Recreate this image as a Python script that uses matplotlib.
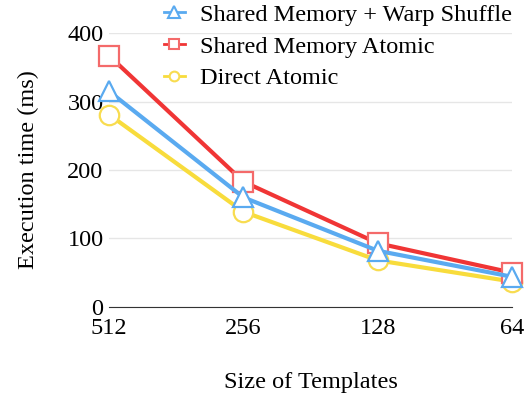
import matplotlib.pyplot as plt
from matplotlib.lines import Line2D

plt.rcParams['font.family'] = ['Liberation Serif', 'DejaVu Serif']

sizes = ['512', '256', '128', '64']
warp_shuffle = [315, 160, 82, 44]
shared_atomic = [367, 183, 93, 50]
direct_atomic = [281, 139, 68, 37]

blue, blue_e = '#5aaaf0', '#5aaaf0'
red, red_e = '#f03535', '#f46a6a'
yel, yel_e = '#f8dc3c', '#f8dc50'

fig = plt.figure(figsize=(5.27, 3.95), dpi=100)
ax = fig.add_axes([0.207, 0.223, 0.765, 0.693])

x = list(range(len(sizes)))
ax.plot(x, direct_atomic, color=yel, lw=3, marker='o', ms=14,
        mfc='white', mec=yel_e, mew=1.6, clip_on=False, zorder=3)
ax.plot(x, shared_atomic, color=red, lw=3, marker='s', ms=14,
        mfc='white', mec=red_e, mew=1.6, clip_on=False, zorder=4)
ax.plot(x, warp_shuffle, color=blue, lw=3, marker='^', ms=15,
        mfc='white', mec=blue_e, mew=1.6, clip_on=False, zorder=5)

ax.set_xlim(0, 3)
ax.set_ylim(0, 400)
ax.set_xticks(x)
ax.set_xticklabels(sizes)
ax.set_yticks([0, 100, 200, 300, 400])
ax.yaxis.grid(True, color='#e6e6e6', lw=1)
ax.set_axisbelow(True)
for s in ['top', 'right', 'left']:
    ax.spines[s].set_visible(False)
ax.spines['bottom'].set_color('#333333')
ax.tick_params(length=0, labelsize=17.5, pad=8)
ax.tick_params(axis='y', pad=4)
ax.set_ylabel('Execution time (ms)', fontsize=17.5, labelpad=20)
ax.set_xlabel('Size of Templates', fontsize=17.5, labelpad=24)

handles = [
    Line2D([], [], color=blue, lw=2, marker='^', ms=8, mfc='white', mec=blue_e, mew=1.5),
    Line2D([], [], color=red, lw=2, marker='s', ms=7, mfc='white', mec=red_e, mew=1.5),
    Line2D([], [], color=yel, lw=2, marker='o', ms=7, mfc='white', mec=yel_e, mew=1.5),
]
labels = ['Shared Memory + Warp Shuffle', 'Shared Memory Atomic', 'Direct Atomic']
ax.legend(handles, labels, loc='upper left', bbox_to_anchor=(0.311, 0.99), bbox_transform=fig.transFigure,
          frameon=False, fontsize=17.5, handlelength=0.85, borderpad=0, borderaxespad=0,
          labelspacing=0.4, handletextpad=0.65)

fig.savefig('out.png', dpi=100)
